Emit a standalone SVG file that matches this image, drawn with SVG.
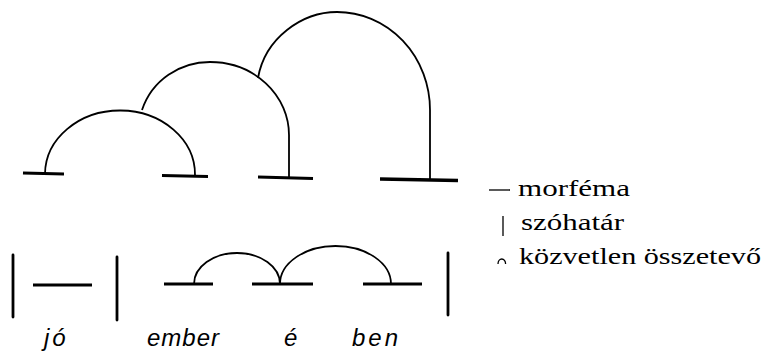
<svg xmlns="http://www.w3.org/2000/svg" width="765" height="356" viewBox="0 0 765 356">
  <style>
    .bar { stroke: #000; stroke-width: 2.8; fill: none; }
    .bar-thick { stroke: #000; stroke-width: 3.6; fill: none; }
    .arc { stroke: #000; stroke-width: 1.8; fill: none; }
    .sep { stroke: #000; stroke-width: 2.8; fill: none; stroke-linecap: round; }
    .mark { stroke: #000; stroke-width: 1.3; fill: none; }
    .word { font-family: "Liberation Sans", "DejaVu Sans", sans-serif; font-style: italic; font-size: 24px; fill: #000; }
    .legend { font-family: "Liberation Serif", "DejaVu Serif", serif; font-size: 24px; fill: #000; }
  </style>
  <rect width="765" height="356" fill="#fff"/>

  <!-- Top row: morphemes -->
  <g id="top-morpheme-1"><line class="bar" x1="23" y1="173" x2="64" y2="174"/></g>
  <g id="top-morpheme-2"><line class="bar" x1="162" y1="175.5" x2="208" y2="176.5"/></g>
  <g id="top-morpheme-3"><line class="bar" x1="258" y1="177" x2="313" y2="178.5"/></g>
  <g id="top-morpheme-4"><line class="bar-thick" x1="380" y1="179" x2="458" y2="180.5"/></g>

  <!-- Bottom row -->
  <g id="boundary-1"><line class="sep" x1="13" y1="255" x2="13" y2="317"/></g>
  <g id="morpheme-jo"><line class="bar" x1="33" y1="285" x2="92" y2="285"/></g>
  <g id="boundary-2"><line class="sep" x1="117" y1="257" x2="117" y2="320"/></g>
  <g id="morpheme-ember"><line class="bar" x1="164" y1="284" x2="213" y2="284"/></g>
  <g id="morpheme-e"><line class="bar" x1="252" y1="284" x2="313" y2="284"/></g>
  <g id="morpheme-ben"><line class="bar" x1="363" y1="284" x2="422" y2="284"/></g>
  <g id="boundary-3"><line class="sep" x1="448" y1="253" x2="448" y2="315"/></g>

  <!-- Connectors -->
  <g id="connectors">
    <path class="arc" d="M45,174 A75,64 0 0 1 195,175"/>
    <path class="arc" d="M142,110 C152,80 180,62 210,62 A79,73 0 0 1 289,135 L289,177"/>
    <path class="arc" d="M258,78 C265,38 302,12 337,12 A93,98 0 0 1 430,110 L430,180"/>
    <path class="arc" d="M194,284 A43,31 0 0 1 280,284"/>
    <path class="arc" d="M280,284 A55.5,38 0 0 1 391,284"/>
  </g>

  <!-- Word labels -->
  <g id="labels">
    <text class="word" x="44" y="346" style="letter-spacing:3px">jó</text>
    <text class="word" x="147" y="346" textLength="72">ember</text>
    <text class="word" x="284" y="346">é</text>
    <text class="word" x="352" y="346" textLength="46">ben</text>
  </g>

  <!-- Legend -->
  <g id="legend">
    <line class="mark" x1="489" y1="190" x2="510" y2="190"/>
    <text class="legend" x="518" y="196" textLength="112" lengthAdjust="spacingAndGlyphs">morféma</text>
    <line class="mark" x1="503" y1="216" x2="503" y2="236"/>
    <text class="legend" x="521" y="230" textLength="103" lengthAdjust="spacingAndGlyphs">szóhatár</text>
    <path class="mark" d="M498,264 A3.8,5 0 0 1 505.6,264"/>
    <text class="legend" x="519" y="264" textLength="242" lengthAdjust="spacingAndGlyphs">közvetlen összetevő</text>
  </g>
</svg>
